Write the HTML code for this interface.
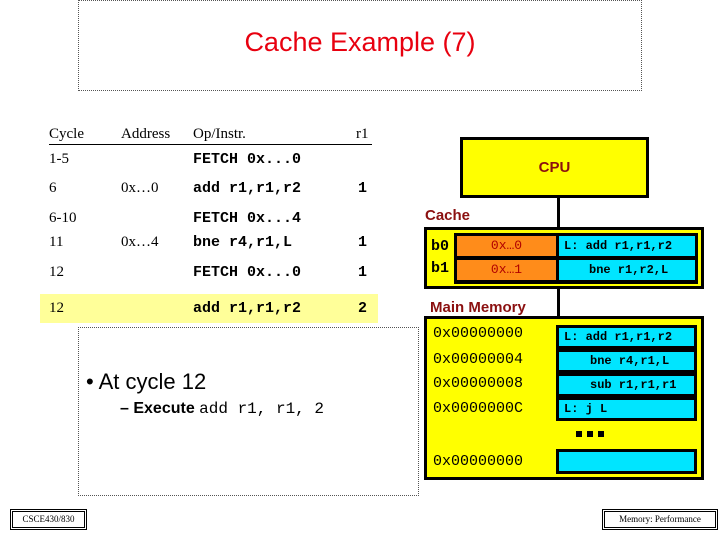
<!DOCTYPE html><html><head><style>
body{margin:0;width:720px;height:540px;background:#fff;position:relative;overflow:hidden;font-family:"Liberation Serif",serif}
.a{position:absolute;white-space:nowrap}
.m{font-family:"Liberation Mono",monospace;font-weight:bold}
.s{font-family:"Liberation Sans",sans-serif;font-weight:bold}
.bx{position:absolute;box-sizing:border-box}
.cy{position:absolute;box-sizing:border-box;background:#00e5ff;border:3px solid #000;font-family:"Liberation Mono",monospace;font-weight:bold;font-size:12px;line-height:16px}
</style></head><body>
<div class="bx" style="left:78px;top:0;width:564px;height:91px;border:1px dotted #555"></div>
<div class="a" style="left:0;width:720px;text-align:center;top:27px;font-size:27px;color:#e8000f;font-family:'Liberation Sans',sans-serif">Cache Example (7)</div>
<div class="bx" style="left:40px;top:294px;width:338px;height:29px;background:#ffff99"></div>
<div style="position:absolute;left:49px;top:126px;width:323px;border-bottom:1.5px solid #000;height:18px"></div>
<div class="a" style="left:49px;top:126px;font-size:15px">Cycle</div>
<div class="a" style="left:121px;top:126px;font-size:15px">Address</div>
<div class="a" style="left:193px;top:126px;font-size:15px">Op/Instr.</div>
<div class="a" style="left:356px;top:126px;font-size:15px">r1</div>
<div class="a" style="left:49px;top:151px;font-size:15px">1-5</div>
<div class="a m" style="left:193px;top:151px;font-size:15px">FETCH 0x...0</div>
<div class="a" style="left:49px;top:180px;font-size:15px">6</div>
<div class="a" style="left:121px;top:180px;font-size:15px">0x…0</div>
<div class="a m" style="left:193px;top:180px;font-size:15px">add r1,r1,r2</div>
<div class="a m" style="left:358px;top:180px;font-size:15px">1</div>
<div class="a" style="left:49px;top:210px;font-size:15px">6-10</div>
<div class="a m" style="left:193px;top:210px;font-size:15px">FETCH 0x...4</div>
<div class="a" style="left:49px;top:234px;font-size:15px">11</div>
<div class="a" style="left:121px;top:234px;font-size:15px">0x…4</div>
<div class="a m" style="left:193px;top:234px;font-size:15px">bne r4,r1,L</div>
<div class="a m" style="left:358px;top:234px;font-size:15px">1</div>
<div class="a" style="left:49px;top:264px;font-size:15px">12</div>
<div class="a m" style="left:193px;top:264px;font-size:15px">FETCH 0x...0</div>
<div class="a m" style="left:358px;top:264px;font-size:15px">1</div>
<div class="a" style="left:49px;top:300px;font-size:15px">12</div>
<div class="a m" style="left:193px;top:300px;font-size:15px">add r1,r1,r2</div>
<div class="a m" style="left:358px;top:300px;font-size:15px">2</div>
<div class="bx" style="left:78px;top:327px;width:341px;height:169px;border:1px dotted #555"></div>
<div class="a" style="left:86px;top:369px;font-size:22px;font-family:'Liberation Sans',sans-serif">• At cycle 12</div>
<div class="a" style="left:120px;top:400px;font-size:16px"><span class="s">– Execute </span><span style="font-family:'Liberation Mono',monospace;font-size:16px">add r1, r1, 2</span></div>
<div class="bx" style="left:12px;top:511px;width:73px;height:17px;border:1px solid #000;outline:1px solid #000;outline-offset:1px;font-size:9px;text-align:center;line-height:15px">CSCE430/830</div>
<div class="bx" style="left:604px;top:511px;width:112px;height:17px;border:1px solid #000;outline:1px solid #000;outline-offset:1px;font-size:9px;text-align:center;line-height:15px">Memory: Performance</div>
<div class="bx" style="left:460px;top:137px;width:189px;height:61px;background:#ffff00;border:3px solid #000"></div>
<div class="a s" style="left:460px;width:189px;text-align:center;top:159px;font-size:15px;color:#8b1010">CPU</div>
<div class="bx" style="left:557px;top:198px;width:3px;height:29px;background:#000"></div>
<div class="bx" style="left:557px;top:288px;width:3px;height:28px;background:#000"></div>
<div class="a s" style="left:425px;top:207px;font-size:15px;color:#8b1010">Cache</div>
<div class="bx" style="left:424px;top:227px;width:280px;height:62px;background:#ffff00;border:3px solid #000"></div>
<div class="bx" style="left:454px;top:233px;width:244px;height:51px;background:#000"></div>
<div class="bx" style="left:457px;top:236px;width:99px;height:20px;background:#ff8c1a;color:#b00000;font-family:'Liberation Mono',monospace;font-size:13px;text-align:center;line-height:20px">0x…0</div>
<div class="bx" style="left:457px;top:260px;width:99px;height:20px;background:#ff8c1a;color:#b00000;font-family:'Liberation Mono',monospace;font-size:13px;text-align:center;line-height:20px">0x…1</div>
<div class="bx m" style="left:559px;top:236px;width:136px;height:20px;background:#00e5ff;font-size:12px;line-height:20px;padding-left:5px">L: add r1,r1,r2</div>
<div class="bx m" style="left:559px;top:260px;width:136px;height:20px;background:#00e5ff;font-size:12px;line-height:20px;padding-left:30px">bne r1,r2,L</div>
<div class="a m" style="left:431px;top:238px;font-size:15px">b0</div>
<div class="a m" style="left:431px;top:260px;font-size:15px">b1</div>
<div class="a s" style="left:430px;top:299px;font-size:15px;color:#8b1010">Main Memory</div>
<div class="bx" style="left:424px;top:316px;width:280px;height:164px;background:#ffff00;border:3px solid #000"></div>
<div class="a m" style="left:433px;top:325px;font-size:15px;font-weight:normal">0x00000000</div>
<div class="a m" style="left:433px;top:351px;font-size:15px;font-weight:normal">0x00000004</div>
<div class="a m" style="left:433px;top:375px;font-size:15px;font-weight:normal">0x00000008</div>
<div class="a m" style="left:433px;top:400px;font-size:15px;font-weight:normal">0x0000000C</div>
<div class="a m" style="left:433px;top:453px;font-size:15px;font-weight:normal">0x00000000</div>
<div class="cy" style="left:556px;top:325px;width:141px;height:24px;padding-left:5px;line-height:18px">L: add r1,r1,r2</div>
<div class="cy" style="left:556px;top:349px;width:141px;height:24px;padding-left:31px;line-height:18px">bne r4,r1,L</div>
<div class="cy" style="left:556px;top:373px;width:141px;height:24px;padding-left:31px;line-height:18px">sub r1,r1,r1</div>
<div class="cy" style="left:556px;top:397px;width:141px;height:24px;padding-left:5px;line-height:18px">L: j L</div>
<div class="bx" style="left:576px;top:431px;width:6px;height:6px;background:#000"></div>
<div class="bx" style="left:587px;top:431px;width:6px;height:6px;background:#000"></div>
<div class="bx" style="left:598px;top:431px;width:6px;height:6px;background:#000"></div>
<div class="cy" style="left:556px;top:449px;width:141px;height:25px"></div>
</body></html>
